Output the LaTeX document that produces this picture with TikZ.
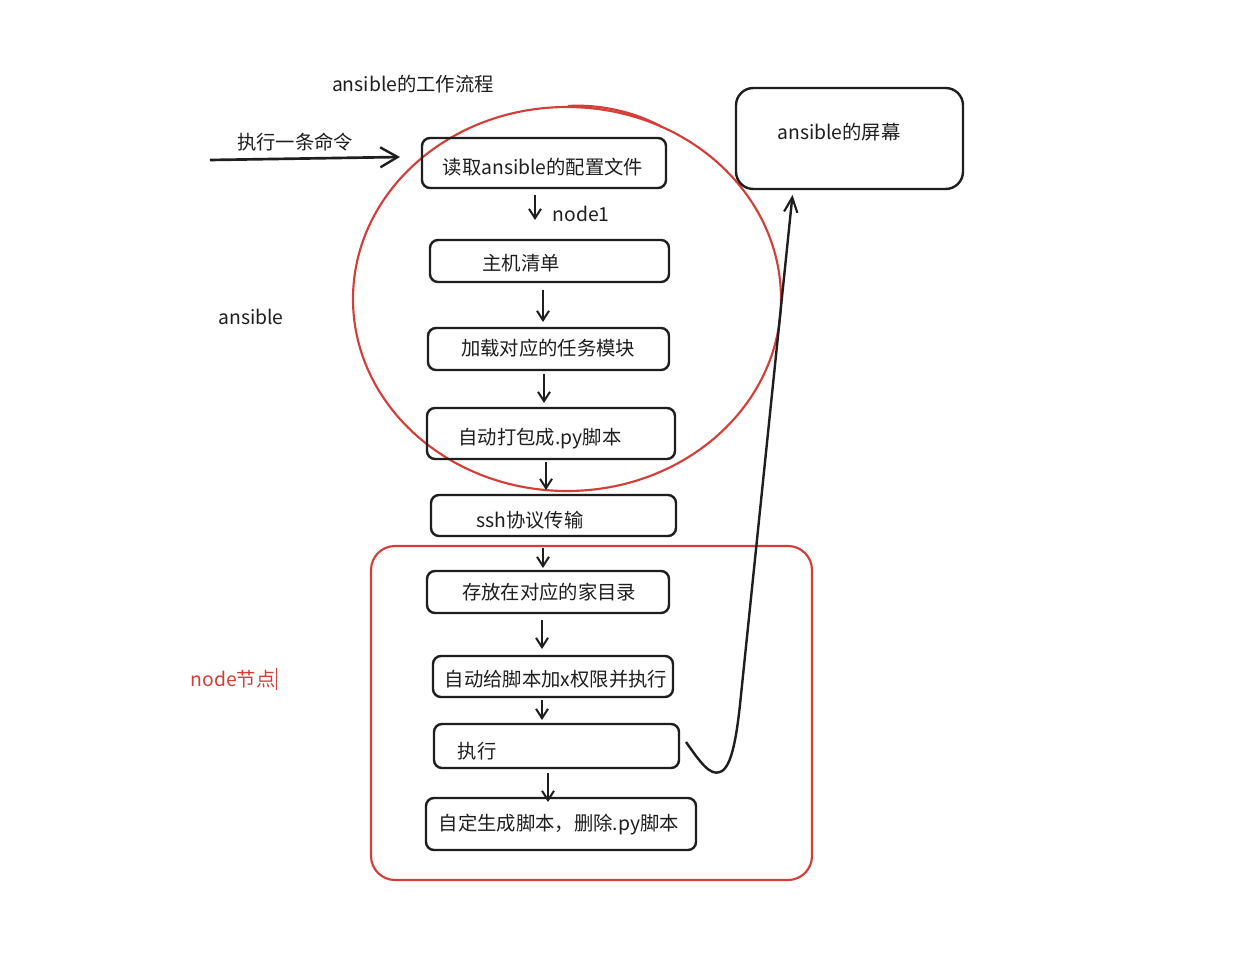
\documentclass[tikz,border=0pt]{standalone}
\usepackage{fontspec}
\setmainfont{Noto Sans CJK SC}
\usetikzlibrary{arrows.meta,calc}
\definecolor{ink}{HTML}{1E1E1E}
\definecolor{redink}{RGB}{212,62,56}
\tikzset{
  box/.style={draw=ink, line width=1.8pt, rounded corners=6pt, inner sep=0pt, outer sep=0pt},
  txt/.style={font=\fontsize{14.5pt}{17pt}\selectfont, text=ink, inner sep=0pt, text height=0.8em, text depth=0.2em, yshift=-3.2pt},
  arr/.style={draw=ink, line width=1.6pt, -{Straight Barb[length=7pt,width=9pt,line width=1.5pt]}},
  bigarr/.style={draw=ink, line width=2pt, -{Straight Barb[length=13pt,width=15pt,line width=1.8pt]}},
  redline/.style={draw=redink, line width=1.6pt}
}
\begin{document}
\begin{tikzpicture}[x=0.75pt,y=-0.75pt]
\useasboundingbox[fill=white] (0,0) rectangle (1250,970);

% red ellipse (ansible part)
\draw[redline] (567,299) ellipse [x radius=214, y radius=192];
\draw[redline] (568,106) .. controls (600,104) and (635,112) .. (662,127);
% red rounded rectangle (node part)
\draw[redline, rounded corners=18pt] (371,546) rectangle (812,880);

% boxes
\node[box, minimum width=183pt,   minimum height=37.5pt]  (b1) at (544,163) {};
\node[box, minimum width=179.25pt,minimum height=31.5pt]  (b2) at (549.5,261) {};
\node[box, minimum width=180.75pt,minimum height=31.5pt]  (b3) at (548.5,349) {};
\node[box, minimum width=186pt,   minimum height=38.25pt] (b4) at (551,433.5) {};
\node[box, minimum width=183.75pt,minimum height=30.75pt] (b5) at (553.5,515.5) {};
\node[box, minimum width=181.5pt, minimum height=31.5pt]  (b6) at (548,592) {};
\node[box, minimum width=180pt,   minimum height=30.75pt] (b7) at (553,676.5) {};
\node[box, minimum width=183.75pt,minimum height=33pt]    (b8) at (556.5,746) {};
\node[box, minimum width=202.5pt, minimum height=39pt]    (b9) at (561,824) {};
\node[box, rounded corners=13pt, minimum width=170.25pt, minimum height=75.75pt] (scr) at (849.5,138.5) {};

% texts in boxes
\node[txt] (t1) at (543,166) {读取ansible的配置文件};
\node[txt] (t2) at (521,262) {主机清单};
\node[txt] (t3) at (548,347) {加载对应的任务模块};
\node[txt] (t4) at (540,436) {自动打包成.py脚本};
\node[txt] (t5) at (530,519) {ssh协议传输};
\node[txt] (t6) at (549,591) {存放在对应的家目录};
\node[txt] (t7) at (556,678) {自动给脚本加x权限并执行};
\node[txt] (t8) at (477,750) {执行};
\node[txt] (t9) at (559,822) {自定生成脚本，删除.py脚本};
\node[txt] (ts) at (839,131) {ansible的屏幕};

% free labels
\node[txt] (title) at (413,83) {ansible的工作流程};
\node[txt] (cmd) at (295,141) {执行一条命令};
\node[txt] (n1) at (581,213) {node1};
\node[txt] (ans) at (251,316) {ansible};
\node[txt, text=redink] (nd) at (233,678) {node节点};
\coordinate (cur1) at (276,668);
\coordinate (cur2) at (276,690);
\draw[redink, line width=0.6pt] (cur1) -- (cur2);

% input arrow
\coordinate (in) at (210,160);
\draw[bigarr] (in) -- ($(b1.west)+(-22,-6)$);

% vertical arrows
\draw[arr] ($(b1.south)+(-9,7)$)   -- ($(b2.north)+(-14.5,-20)$);
\draw[arr] ($(b2.south)+(-6.5,8)$) -- ($(b3.north)+(-5.5,-6)$);
\draw[arr] ($(b3.south)+(-4.5,4)$) -- ($(b4.north)+(-7,-5)$);
\draw[arr] ($(b4.south)+(-5,3)$)   -- ($(b5.north)+(-7.5,-5)$);
\draw[arr] ($(b5.south)+(-10.5,12)$) -- ($(b6.north)+(-5,-3)$);
\draw[arr] ($(b6.south)+(-6,7)$)   -- ($(b7.north)+(-11,-7)$);
\draw[arr] ($(b7.south)+(-11,3)$)  -- ($(b8.north)+(-14.5,-4)$);
\draw[arr] ($(b8.south)+(-8.5,5)$) -- ($(b9.north)+(-13,4)$);

% curved arrow to screen
\draw[bigarr, line width=1.8pt, -{Straight Barb[length=11pt,width=10pt,line width=1.6pt]}]
  ($(b8.east)+(7,-4)$) .. controls (700,762) and (710,776) .. (720,772)
  .. controls (732,768) and (737,735) .. (741,695)
  -- ($(scr.south)+(-57,6)$);
\end{tikzpicture}
\end{document}
